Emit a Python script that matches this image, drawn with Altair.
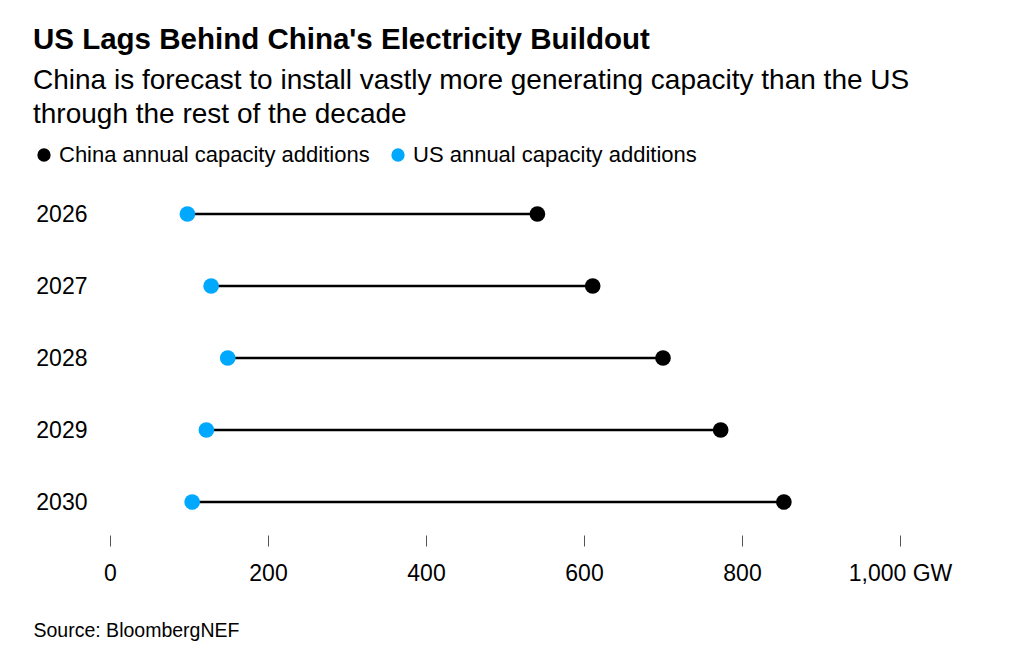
import altair as alt
import pandas as pd

years = ["2026", "2027", "2028", "2029", "2030"]
china = [541, 611, 700, 773, 853]
us = [98, 128, 149, 122, 104]
series = ["China annual capacity additions", "US annual capacity additions"]
colors = ["#000000", "#00a9fe"]
x_ticks = [0, 200, 400, 600, 800, 1000]

title = "US Lags Behind China's Electricity Buildout"
subtitle = [
    "China is forecast to install vastly more generating capacity than the US",
    "through the rest of the decade",
]
source = "Source: BloombergNEF"

FONT = "Liberation Sans"

wide = pd.DataFrame({"year": years, "china": china, "us": us})
long = pd.DataFrame({
    "year": years * 2,
    "value": china + us,
    "series": [series[0]] * len(years) + [series[1]] * len(years),
})

y_enc = alt.Y(
    "year:N", sort=years,
    scale=alt.Scale(type="point", padding=0.5),
    axis=alt.Axis(title=None, domain=False, ticks=False, grid=False,
                  labelFontSize=23, labelPadding=23, labelColor="#000",
                  labelFont=FONT),
)

x_axis = alt.Axis(
    values=x_ticks, grid=False, domain=False, tickSize=11, tickColor="#555",
    tickWidth=1, offset=-3, labelFlush=False,
    labelPadding=16, labelFontSize=23, labelColor="#000", labelFont=FONT,
    labelExpr="datum.value == 1000 ? '1,000 GW' : format(datum.value, ',')",
    title=source, titleFont=FONT, titleFontSize=19.5, titleFontWeight="normal",
    titleColor="#000", titleAnchor="start", titleAlign="left",
    titleBaseline="alphabetic", titleX=-77, titleY=101,
)
x_scale = alt.Scale(domain=[0, 1000], nice=False)

rules = alt.Chart(wide).mark_rule(color="#000", strokeWidth=2.5).encode(
    x=alt.X("us:Q", scale=x_scale, axis=x_axis),
    x2="china:Q",
    y=y_enc,
)

dots = alt.Chart(long).mark_circle(size=246, opacity=1).encode(
    x=alt.X("value:Q", scale=x_scale, axis=x_axis),
    y=y_enc,
    color=alt.Color(
        "series:N",
        scale=alt.Scale(domain=series, range=colors),
        legend=alt.Legend(
            title=None, orient="none", legendX=-77, legendY=-34,
            direction="horizontal", symbolType="circle", symbolSize=177,
            symbolStrokeWidth=0, labelFontSize=22, labelFont=FONT,
            labelColor="#000", labelLimit=400, columnPadding=17,
            labelOffset=4, padding=0,
        ),
    ),
)

chart = alt.layer(rules, dots).properties(
    width=790,
    height=360,
    autosize=alt.AutoSizeParams(type="none"),
    padding={"left": 102, "top": 170, "right": 107, "bottom": 112},
    title=alt.TitleParams(
        text=title, subtitle=subtitle, anchor="start", frame="group",
        dx=-77, fontSize=29.5, font=FONT, fontWeight="bold", color="#000",
        subtitleFont=FONT, subtitleFontSize=28, subtitleColor="#000",
        subtitleLineHeight=34, subtitlePadding=12, offset=14,
    ),
).configure_view(stroke=None)

chart.save("out.html", embed_options={"renderer": "svg", "actions": False})
